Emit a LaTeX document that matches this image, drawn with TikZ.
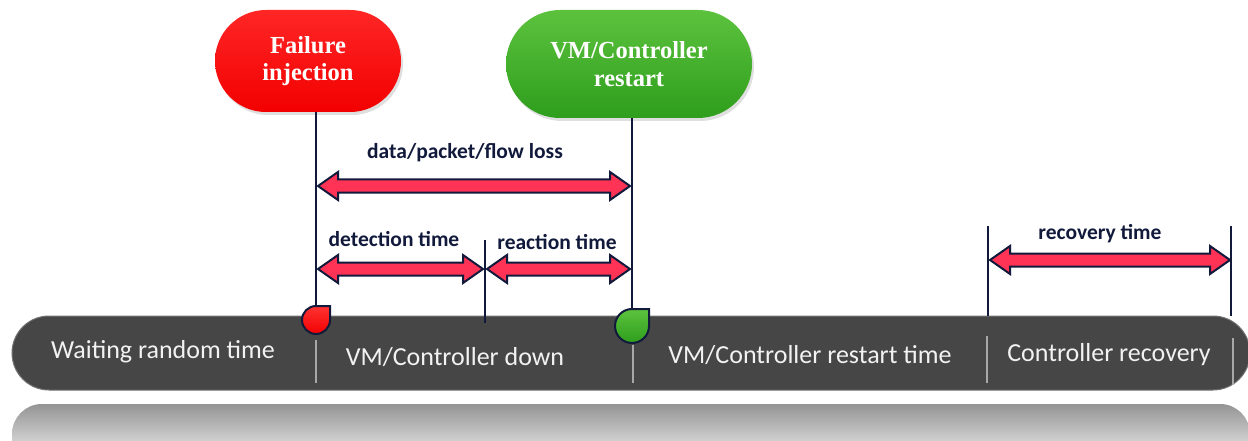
\documentclass[tikz,border=0pt]{standalone}
\usepackage{fontspec}
\setmainfont{Liberation Serif}
\newfontfamily\labelfont{Carlito}
\usetikzlibrary{calc,shadows,shapes.misc}

\definecolor{navy}{HTML}{121A3C}
\definecolor{arrowpink}{HTML}{FF3355}
\definecolor{bargray}{HTML}{464646}
\definecolor{bartext}{HTML}{F2F2F2}
\definecolor{sepgray}{HTML}{A8A8A8}
\definecolor{greentop}{HTML}{5CC23E}
\definecolor{greenbot}{HTML}{2E9E1C}

\tikzset{
  pill/.style={rounded rectangle, minimum width=186pt, minimum height=102pt,
    inner sep=0pt, align=center, text=white,
    font=\bfseries\fontsize{24.5}{27.5}\selectfont,
    drop shadow={shadow xshift=2pt, shadow yshift=-3pt, opacity=.25}},
  redpill/.style={pill, top color=red!85!white, bottom color=red!95!black},
  greenpill/.style={pill, minimum width=246pt, minimum height=108pt,
    top color=greentop, bottom color=greenbot},
  timeline/.style={fill=bargray, draw=black!55, line width=1pt, rounded corners=37pt},
  phase/.style={text=bartext, font=\labelfont\fontsize{26}{30}\selectfont},
  span/.style={text=navy, font=\labelfont\bfseries\fontsize{21.5}{25}\selectfont},
  sep/.style={draw=sepgray, line width=2.5pt},
  marker/.style={draw=navy, line width=2pt},
  fat/.style={fill=arrowpink, draw=navy, line width=2pt, line join=miter},
}

% double-headed block arrow between two named points
\newcommand\fatarrow[2]{%
  \filldraw[fat] let \p1=(#1), \p2=(#2) in
    (\x1,\y1) -- (\x1+20pt,\y1+14pt) -- (\x1+20pt,\y1+6.5pt)
    -- (\x2-20pt,\y1+6.5pt) -- (\x2-20pt,\y1+14pt) -- (\x2,\y1)
    -- (\x2-20pt,\y1-14pt) -- (\x2-20pt,\y1-6.5pt)
    -- (\x1+20pt,\y1-6.5pt) -- (\x1+20pt,\y1-14pt) -- cycle;}

% drop-shaped event marker: centre, radius, top colour, bottom colour
\newcommand\dropmark[4]{%
  \begin{scope}[shift={(#1)}]
    \shade[marker, top color=#3, bottom color=#4]
      (0,-#2) -- (#2,-#2) -- (#2,0) arc[start angle=0, end angle=270, radius=#2] -- cycle;
  \end{scope}}

\begin{document}
\begin{tikzpicture}[x=1pt,y=-1pt]
\useasboundingbox (0,0) rectangle (1248,441);
\clip (0,0) rectangle (1248,441);

% reflection under the timeline
\shade[top color=black!42, bottom color=white, rounded corners=30pt]
  (12,404) rectangle (1250,470);

% timeline bar
\path[timeline] (12,316) rectangle (1250,390);

% phase separators
\draw[sep] (316,340) -- (316,383);
\draw[sep] (633,345) -- (633,383);
\draw[sep] (987,336) -- (987,383);
\draw[sep] (1233,338) -- (1233,385);

% phase names
\node[phase] (wait) at (163,352) {Waiting random time};
\node[phase] (down) at (455,357) {VM/Controller down};
\node[phase] (rst)  at (810,355) {VM/Controller restart time};
\node[phase] (recv) at (1109,355) {Controller recovery};

% events
\node[redpill]   (fail)    at (308,61) {Failure\\injection};
\node[greenpill] (restart) at (629,64) {VM/Controller\\restart};

\coordinate (dropR) at (316,320);
\coordinate (dropG) at (632,326);
\coordinate (mid)   at (485,240);
\coordinate (midB)  at (485,323);
\coordinate (rA)    at (988,226);
\coordinate (rAb)   at (988,316);
\coordinate (rB)    at (1231,226);
\coordinate (rBb)   at (1231,316);

% event lines
\draw[navy, line width=2pt] (dropR |- fail.south) -- (dropR);
\draw[navy, line width=2pt] (dropG |- restart.south) -- (dropG);
\draw[navy, line width=2pt] (mid) -- (midB);
\draw[navy, line width=2pt] (rA) -- (rAb);
\draw[navy, line width=2pt] (rB) -- (rBb);

% event markers on the bar
\dropmark{dropR}{14}{red!80!white}{red!95!black}
\dropmark{dropG}{17}{greentop}{greenbot}

% spans
\coordinate (lossA) at (318,186);
\coordinate (lossB) at (630,186);
\coordinate (detA)  at (318,269);
\coordinate (detB)  at (483,269);
\coordinate (reaA)  at (487,269);
\coordinate (reaB)  at (630,269);
\coordinate (recA)  at (990,260);
\coordinate (recB)  at (1230,260);

\fatarrow{lossA}{lossB}
\fatarrow{detA}{detB}
\fatarrow{reaA}{reaB}
\fatarrow{recA}{recB}

\node[span] (loss) at (465,153) {data/packet/flow loss};
\node[span] (det)  at (394,239) {detection time};
\node[span] (rea)  at (557,242) {reaction time};
\node[span] (rec)  at (1100,234) {recovery time};
\end{tikzpicture}
\end{document}
